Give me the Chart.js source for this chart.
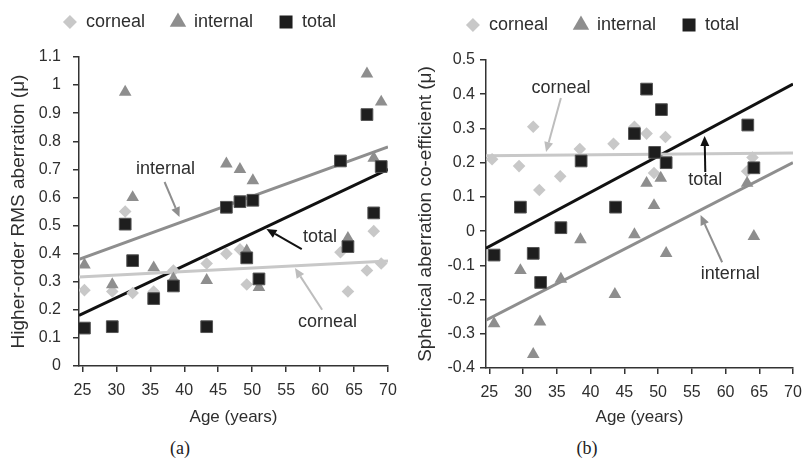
<!DOCTYPE html>
<html lang="en">
<head>
<meta charset="UTF-8">
<title>Aberration vs age</title>
<script src="https://cdn.jsdelivr.net/npm/chart.js@4.4.1/dist/chart.umd.min.js"></script>
<style>
  body { margin: 0; background: #fff; width: 806px; height: 464px; position: relative; overflow: hidden; }
  canvas { position: absolute; top: 0; }
  #chartA { left: 0; }
  #chartB { left: 403px; }
  .caption { position: absolute; top: 438px; font: 18px "Liberation Serif", "DejaVu Serif", serif; color: #222; transform: translateX(-50%); }
</style>
</head>
<body>
<canvas id="chartA" width="403" height="432"></canvas>
<canvas id="chartB" width="403" height="432"></canvas>
<div class="caption" style="left:180px">(a)</div>
<div class="caption" style="left:587px">(b)</div>

<script>
// ---- data ----
const xTicks = [25, 30, 35, 40, 45, 50, 55, 60, 65, 70];
const yTicksA = [0, 0.1, 0.2, 0.3, 0.4, 0.5, 0.6, 0.7, 0.8, 0.9, 1, 1.1];
const yTicksB = [-0.4, -0.3, -0.2, -0.1, 0, 0.1, 0.2, 0.3, 0.4, 0.5];

// (a) higher-order RMS aberration
const ageCornealA = [25.3, 29.4, 31.3, 32.4, 35.5, 38.4, 43.3, 46.2, 48.2, 49.2, 51, 63, 64.1, 66.9, 67.9, 69];
const rmsCornealA = [0.27, 0.265, 0.55, 0.26, 0.265, 0.34, 0.365, 0.40, 0.415, 0.29, 0.30, 0.405, 0.265, 0.34, 0.48, 0.365];
const ageInternalA = [25.3, 29.4, 31.3, 32.4, 35.5, 38.4, 43.3, 46.2, 48.2, 49.2, 50.1, 51, 64.1, 66.9, 67.9, 69];
const rmsInternalA = [0.36, 0.29, 0.975, 0.60, 0.35, 0.31, 0.305, 0.72, 0.70, 0.41, 0.66, 0.28, 0.455, 1.04, 0.74, 0.94];
const ageTotalA = [25.3, 29.4, 31.3, 32.4, 35.5, 38.4, 43.3, 46.2, 48.2, 49.2, 50.1, 51, 63, 64.1, 66.9, 67.9, 69];
const rmsTotalA = [0.135, 0.14, 0.505, 0.375, 0.24, 0.285, 0.14, 0.565, 0.585, 0.385, 0.59, 0.31, 0.73, 0.425, 0.895, 0.545, 0.71];

// (b) spherical aberration co-efficient
const ageCornealB = [25.4, 29.4, 31.5, 32.4, 35.5, 38.4, 43.4, 46.5, 48.3, 49.4, 51.1, 63.2, 64];
const sacCornealB = [0.21, 0.19, 0.305, 0.12, 0.16, 0.24, 0.255, 0.305, 0.285, 0.17, 0.275, 0.175, 0.215];
const ageInternalB = [25.7, 29.6, 31.5, 32.5, 35.6, 38.5, 43.6, 46.5, 48.3, 49.4, 50.4, 51.2, 63.2, 64.2];
const sacInternalB = [-0.27, -0.115, -0.36, -0.265, -0.14, -0.025, -0.185, -0.01, 0.14, 0.075, 0.155, -0.065, 0.14, -0.015];
const ageTotalB = [25.7, 29.6, 31.5, 32.6, 35.6, 38.6, 43.7, 46.5, 48.3, 49.5, 50.5, 51.2, 63.3, 64.2];
const sacTotalB = [-0.07, 0.07, -0.065, -0.15, 0.01, 0.205, 0.07, 0.285, 0.415, 0.23, 0.355, 0.20, 0.31, 0.185];

// regression lines (end points)
const fitAge = [24.5, 70];
const fitCornealA = [0.317, 0.374];
const fitInternalA = [0.38, 0.78];
const fitTotalA = [0.18, 0.70];
const fitCornealB = [0.22, 0.228];
const fitInternalB = [-0.26, 0.20];
const fitTotalB = [-0.05, 0.43];

const FONT = '"Liberation Sans", Arial, sans-serif';
const TEXT = '#2e2e2e';
const C_CORNEAL = '#c8c8c8', C_INTERNAL = '#8e8e8e', C_TOTAL = '#1e1e1e';

// callout labels with arrows, in data units
const calloutsA = [
  { text: 'internal', at: [37.25, 0.70], from: [37.1, 0.655], to: [39.3, 0.53], color: C_INTERNAL },
  { text: 'total', at: [60.0, 0.46], from: [57.3, 0.416], to: [52.1, 0.488], color: '#111' },
  { text: 'corneal', at: [61.1, 0.157], from: [60.3, 0.20], to: [56.3, 0.349], color: '#bdbdbd' }
];
const calloutsB = [
  { text: 'corneal', at: [35.6, 0.418], from: [35.6, 0.389], to: [33.4, 0.231], color: '#bdbdbd' },
  { text: 'total', at: [57.0, 0.149], from: [57.0, 0.173], to: [56.9, 0.278], color: '#111' },
  { text: 'internal', at: [60.7, -0.126], from: [59.5, -0.091], to: [56.3, 0.047], color: C_INTERNAL }
];

function pts(xs, ys) { return xs.map((x, i) => ({ x: x, y: ys[i] })); }

function drawMarker(ctx, style, x, y, r, fill, stroke) {
  ctx.beginPath();
  if (style === 'rect') {
    const s = r * Math.SQRT1_2;
    ctx.rect(x - s, y - s, 2 * s, 2 * s);
  } else if (style === 'triangle') {
    ctx.moveTo(x, y - r);
    ctx.lineTo(x + r * Math.sin(2 * Math.PI / 3), y + r / 2);
    ctx.lineTo(x - r * Math.sin(2 * Math.PI / 3), y + r / 2);
    ctx.closePath();
  } else {
    ctx.moveTo(x, y - r); ctx.lineTo(x + r, y); ctx.lineTo(x, y + r); ctx.lineTo(x - r, y);
    ctx.closePath();
  }
  ctx.fillStyle = fill; ctx.fill();
  if (stroke) { ctx.strokeStyle = stroke; ctx.lineWidth = 1; ctx.stroke(); }
}

const markerLegend = {
  id: 'markerLegend',
  afterDraw(chart) {
    const ctx = chart.ctx;
    const items = chart.data.datasets.filter(d => d.inLegend);
    const sizes = { rectRot: 7, triangle: 9.5, rect: 9.2 };
    ctx.save();
    ctx.font = '18px ' + FONT;
    ctx.textBaseline = 'middle';
    let total = 0;
    items.forEach((d, i) => { total += 22 + ctx.measureText(d.label).width + (i ? 27 : 0); });
    let x = 200 - total / 2;
    const y = chart.chartArea.top - 35;
    items.forEach(d => {
      drawMarker(ctx, d.pointStyle, x + 6, y, sizes[d.pointStyle], d.backgroundColor);
      ctx.fillStyle = TEXT;
      ctx.fillText(d.label, x + 22, y);
      x += 22 + ctx.measureText(d.label).width + 27;
    });
    ctx.restore();
  }
};

function makeCallouts(items) {
  return {
    id: 'callouts',
    afterDatasetsDraw(chart) {
      const { ctx, scales: { x, y } } = chart;
      ctx.save();
      items.forEach(a => {
        const x1 = x.getPixelForValue(a.from[0]), y1 = y.getPixelForValue(a.from[1]);
        const x2 = x.getPixelForValue(a.to[0]), y2 = y.getPixelForValue(a.to[1]);
        const ang = Math.atan2(y2 - y1, x2 - x1);
        const hl = 10, hw = 4.5;
        const bx = x2 - hl * Math.cos(ang), by = y2 - hl * Math.sin(ang);
        ctx.strokeStyle = a.color; ctx.fillStyle = a.color; ctx.lineWidth = 2;
        ctx.beginPath(); ctx.moveTo(x1, y1); ctx.lineTo(bx, by); ctx.stroke();
        ctx.beginPath();
        ctx.moveTo(x2, y2);
        ctx.lineTo(bx + hw * Math.sin(ang), by - hw * Math.cos(ang));
        ctx.lineTo(bx - hw * Math.sin(ang), by + hw * Math.cos(ang));
        ctx.closePath(); ctx.fill();
        ctx.font = '18px ' + FONT;
        ctx.fillStyle = TEXT; ctx.textAlign = 'center'; ctx.textBaseline = 'middle';
        ctx.fillText(a.text, x.getPixelForValue(a.at[0]), y.getPixelForValue(a.at[1]));
      });
      ctx.restore();
    }
  };
}

function scatterSet(label, style, color, xs, ys, r, order) {
  return {
    label: label, inLegend: true, data: pts(xs, ys), pointStyle: style,
    backgroundColor: color, borderColor: style === 'rect' ? '#555' : color, borderWidth: style === 'rect' ? 1 : 0,
    pointRadius: r, order: order
  };
}
function fitSet(color, ys) {
  return {
    label: 'fit', data: pts(fitAge, ys), showLine: true, borderColor: color, borderWidth: 3,
    pointRadius: 0, order: 10
  };
}

function axes(yTicks, yTitle, yWidth, yTitlePad, yTickPad, xHeight) {
  const grid = { drawOnChartArea: false, drawTicks: true, tickLength: 6, color: '#333', lineWidth: 1.5 };
  return {
    x: {
      type: 'linear', min: 24.5, max: 70,
      afterBuildTicks: s => { s.ticks = xTicks.map(v => ({ value: v })); },
      afterFit: s => { s.height = xHeight; s.paddingRight = 0; s.paddingLeft = 0; },
      grid: grid, border: { color: '#333', width: 1.5 },
      ticks: { font: { size: 16, family: FONT }, color: TEXT, padding: 9, maxRotation: 0, autoSkip: false },
      title: { display: true, text: 'Age (years)', font: { size: 17, family: FONT }, color: TEXT, padding: { top: 0, bottom: 4 } }
    },
    y: {
      type: 'linear', min: yTicks[0], max: yTicks[yTicks.length - 1],
      afterBuildTicks: s => { s.ticks = yTicks.map(v => ({ value: v })); },
      afterFit: s => { s.width = yWidth; },
      grid: grid, border: { color: '#333', width: 1.5 },
      ticks: { font: { size: 16, family: FONT }, color: TEXT, padding: yTickPad, autoSkip: false, callback: v => String(+v.toFixed(2)) },
      title: { display: true, text: yTitle, font: { size: 19, family: FONT }, color: TEXT, padding: { top: yTitlePad, bottom: 0 } }
    }
  };
}

function makeChart(id, sets, scales, padding, callouts) {
  return new Chart(document.getElementById(id), {
    type: 'scatter',
    data: { datasets: sets },
    options: {
      responsive: false, animation: false, devicePixelRatio: 1,
      layout: { padding: padding },
      plugins: { legend: { display: false }, tooltip: { enabled: false } },
      scales: scales
    },
    plugins: [markerLegend, makeCallouts(callouts)]
  });
}

makeChart('chartA', [
  scatterSet('corneal', 'rectRot', C_CORNEAL, ageCornealA, rmsCornealA, 6.3, 3),
  scatterSet('internal', 'triangle', C_INTERNAL, ageInternalA, rmsInternalA, 7.3, 2),
  scatterSet('total', 'rect', C_TOTAL, ageTotalA, rmsTotalA, 8.3, 1),
  fitSet(C_CORNEAL, fitCornealA),
  fitSet(C_INTERNAL, fitInternalA),
  fitSet('#111', fitTotalA)
], axes(yTicksA, 'Higher-order RMS aberration (\u03bc)', 79, 7, 12, 66), { top: 57, right: 15, left: 0, bottom: 0 }, calloutsA);

makeChart('chartB', [
  scatterSet('corneal', 'rectRot', C_CORNEAL, ageCornealB, sacCornealB, 6.3, 3),
  scatterSet('internal', 'triangle', C_INTERNAL, ageInternalB, sacInternalB, 7.3, 2),
  scatterSet('total', 'rect', C_TOTAL, ageTotalB, sacTotalB, 8.3, 1),
  fitSet(C_CORNEAL, fitCornealB),
  fitSet(C_INTERNAL, fitInternalB),
  fitSet('#111', fitTotalB)
], axes(yTicksB, 'Spherical aberration co-efficient (\u03bc)', 83, 11, 5, 64), { top: 60, right: 13, left: 0, bottom: 0 }, calloutsB);
</script>
</body>
</html>
